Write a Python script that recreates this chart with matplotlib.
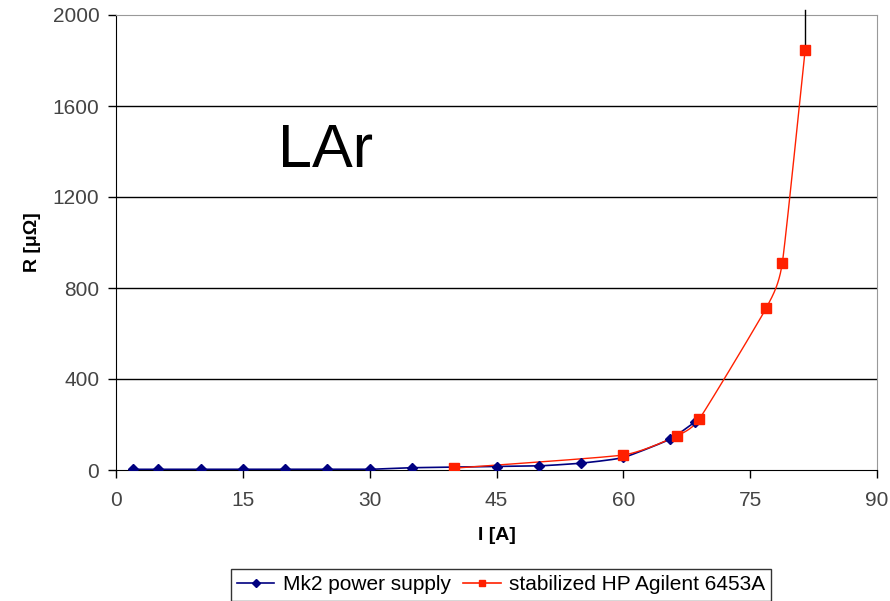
import numpy as np
import matplotlib
matplotlib.use("Agg")
import matplotlib.pyplot as plt

plt.rcParams['font.family'] = ['Liberation Sans', 'DejaVu Sans']

# Data
mk2_I = [2, 5, 10, 15, 20, 25, 30, 35, 45, 50, 55, 60, 65.5, 68.5]
mk2_R = [3, 3, 3, 3, 3, 3, 3, 10, 15, 18, 30, 55, 135, 212]
hp_I = [40, 60, 66.3, 69, 76.9, 78.8, 81.5]
hp_R = [8, 66, 150, 225, 712, 910, 1845]
hp_err_top = 2020
x_ticks = [0, 15, 30, 45, 60, 75, 90]
y_ticks = [0, 400, 800, 1200, 1600, 2000]


def smooth(x, y, n=30, t=0.5):
    """Catmull-Rom style smoothing similar to spreadsheet smoothed lines (rendering only)."""
    x = np.asarray(x, float)
    y = np.asarray(y, float)
    px = np.concatenate([[2 * x[0] - x[1]], x, [2 * x[-1] - x[-2]]])
    py = np.concatenate([[2 * y[0] - y[1]], y, [2 * y[-1] - y[-2]]])
    xs, ys = [], []
    for i in range(1, len(px) - 2):
        p0, p1, p2, p3 = (np.array([px[j], py[j]]) for j in range(i - 1, i + 3))
        m1 = t * (p2 - p0) / 2
        m2 = t * (p3 - p1) / 2
        s = np.linspace(0, 1, n)
        h00 = 2 * s**3 - 3 * s**2 + 1
        h10 = s**3 - 2 * s**2 + s
        h01 = -2 * s**3 + 3 * s**2
        h11 = s**3 - s**2
        pts = (np.outer(h00, p1) + np.outer(h10, m1) + np.outer(h01, p2) + np.outer(h11, m2))
        xs.extend(pts[:, 0])
        ys.extend(pts[:, 1])
    return np.array(xs), np.array(ys)


fig = plt.figure(figsize=(8.9, 6.01), dpi=100)
ax = fig.add_axes([116 / 890, 1 - 470 / 601, (877 - 116) / 890, (470 - 15) / 601])

ax.set_xlim(0, 90)
ax.set_ylim(0, 2000)

for yv in y_ticks[1:-1]:
    ax.axhline(yv, color='black', lw=1.0, zorder=1)

bx, by = smooth(mk2_I, mk2_R)
ax.plot(bx, by, color='#000080', lw=1.2, zorder=3)
ax.plot(mk2_I, mk2_R, ls='none', marker='D', ms=5, color='#000080', zorder=4)

rx, ry = smooth(hp_I, hp_R)
ax.plot(rx, ry, color='#ff2000', lw=1.0, zorder=3)
ax.plot(hp_I, hp_R, ls='none', marker='s', ms=6.5, color='#ff2000', zorder=5)

# vertical error bar on last point
ax.plot([hp_I[-1], hp_I[-1]], [hp_R[-1], hp_err_top], color='black', lw=1.0,
        clip_on=False, zorder=4)

# legend proxies
h1, = ax.plot([], [], color='#000080', marker='D', ms=4, lw=1.2, label='Mk2 power supply')
h2, = ax.plot([], [], color='#ff2000', marker='s', ms=5, lw=1.2, label='stabilized HP Agilent 6453A')

ax.set_xticks(x_ticks)
ax.set_yticks(y_ticks)
ax.tick_params(axis='both', direction='out', length=6, width=1, colors='black',
               labelsize=15, labelcolor='#444444')
ax.tick_params(axis='x', pad=9)
ax.tick_params(axis='y', pad=6)

ax.spines['left'].set_color('black')
ax.spines['bottom'].set_color('black')
ax.spines['top'].set_color('#999999')
ax.spines['right'].set_color('#999999')

ax.set_xlabel('I [A]', fontsize=14, fontweight='bold', labelpad=12)
ax.set_ylabel('R [μΩ]', fontsize=14, fontweight='bold', labelpad=8)

ax.text((278 - 116) / 761, (470 - 167) / 455, 'LAr', transform=ax.transAxes,
        fontsize=44, color='black', va='baseline')

leg = fig.legend(handles=[h1, h2], loc='upper center', bbox_to_anchor=(501 / 890, 1 - 569 / 601),
                 ncol=2, fontsize=15, frameon=True, fancybox=False, edgecolor='black',
                 handlelength=1.8, handletextpad=0.4, columnspacing=0.6, borderpad=0.3,
                 borderaxespad=0)
leg.get_frame().set_linewidth(1.0)

fig.savefig('out.png', dpi=100)
